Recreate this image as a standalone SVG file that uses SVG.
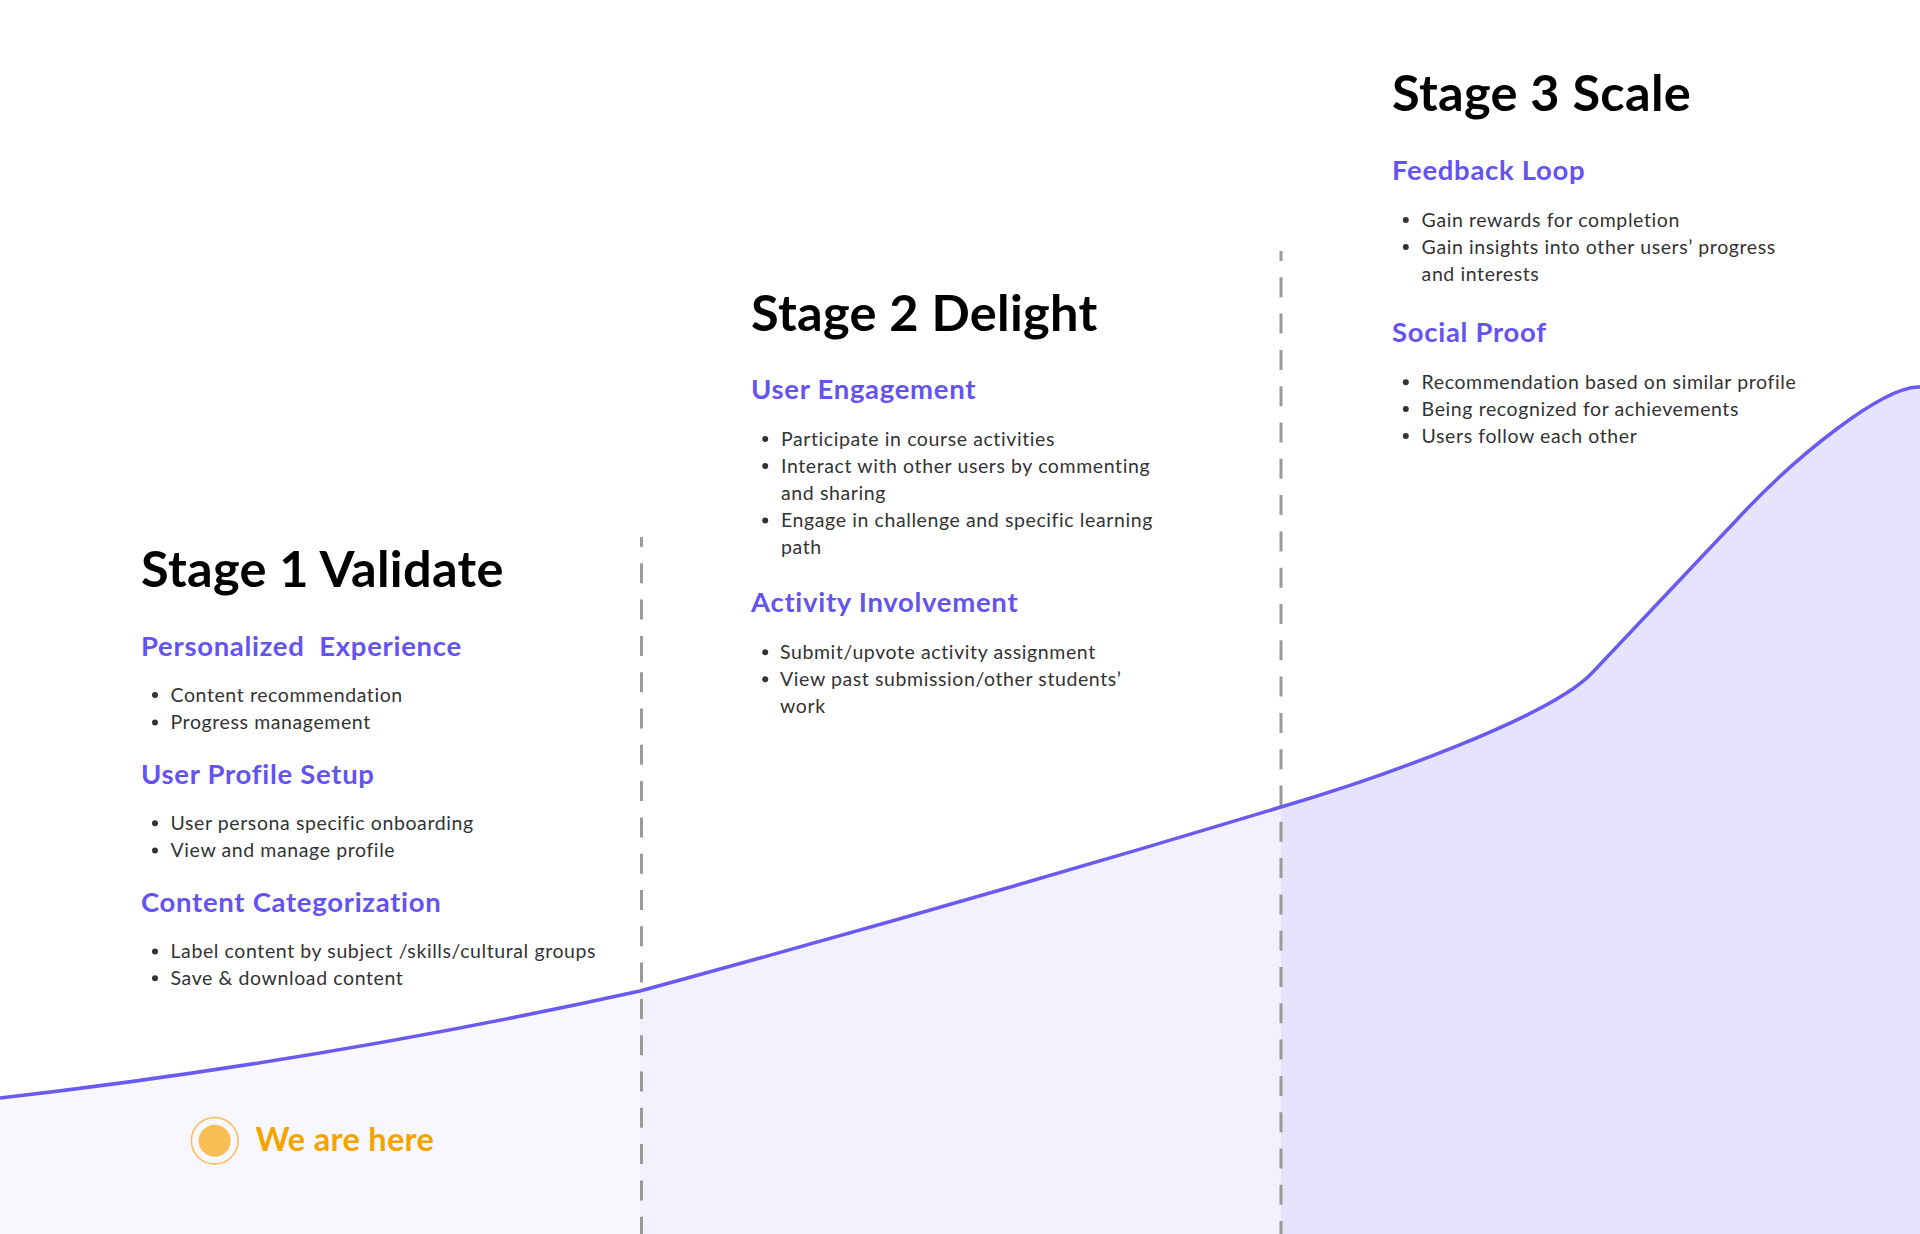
<svg xmlns="http://www.w3.org/2000/svg" width="1920" height="1234" viewBox="0 0 1920 1234">
<style>
  .title { font-family: Lato, "Noto Sans", sans-serif; font-weight: 700; font-size: 50.5px; letter-spacing: 0.3px; fill: #000; }
  .sub { font-family: Lato, "Noto Sans", sans-serif; font-weight: 700; font-size: 27.5px; letter-spacing: 0.7px; fill: #6553F0; }
  .item { font-family: Lato, "Noto Sans", sans-serif; font-weight: 400; font-size: 19.5px; letter-spacing: 0.6px; fill: #333; }
  .dot { fill: #333; }
  .divider { stroke: #9A9A9A; stroke-width: 3; stroke-dasharray: 20 16.3; stroke-dashoffset: 10; fill: none; }
  .curve { stroke: #6A5AEF; stroke-width: 3.5; fill: none; stroke-linejoin: round; }
  .here { font-family: Lato, "Noto Sans", sans-serif; font-weight: 700; font-size: 32.5px; letter-spacing: 0.3px; fill: #F5A300; }
</style>
<rect x="0" y="0" width="1920" height="1234" fill="#FFFFFF"/>

<g id="areas">
  <path d="M0,1098 Q320,1061.5 640,991 L640,1234 L0,1234 Z" fill="#F8F7FE"/>
  <path d="M640,991 Q960,904 1281,807 L1281,1234 L640,1234 Z" fill="#F3F1FE"/>
  <path d="M1281,807 C1380,778 1550,717 1592,673 L1745,511 C1795,458 1880,388 1918,387 L1920,387 L1920,1234 L1281,1234 Z" fill="#E6E3FC"/>
</g>

<g id="connectors">
  <line class="divider" x1="641.5" y1="537" x2="641.5" y2="1234"/>
  <line class="divider" x1="1281" y1="251" x2="1281" y2="1234"/>
  <path class="curve" d="M0,1098 Q320,1061.5 640,991 Q960,904 1281,807 C1380,778 1550,717 1592,673 L1745,511 C1795,458 1880,388 1918,387 L1920,387"/>
</g>

<g id="stage1">
  <text class="title" x="141" y="587">Stage 1 Validate</text>
  <text class="sub" x="141" y="656" xml:space="preserve">Personalized  Experience</text>
  <circle class="dot" cx="155" cy="695" r="3"/>
  <text class="item" x="170.5" y="701.7">Content recommendation</text>
  <circle class="dot" cx="155" cy="722.6" r="3"/>
  <text class="item" x="170.5" y="729.3">Progress management</text>
  <text class="sub" x="141" y="784">User Profile Setup</text>
  <circle class="dot" cx="155" cy="823.3" r="3"/>
  <text class="item" x="170.5" y="830">User persona specific onboarding</text>
  <circle class="dot" cx="155" cy="850.6" r="3"/>
  <text class="item" x="170.5" y="857.3">View and manage profile</text>
  <text class="sub" x="141" y="912.3">Content Categorization</text>
  <circle class="dot" cx="155" cy="951.6" r="3"/>
  <text class="item" x="170.5" y="958.3">Label content by subject /skills/cultural groups</text>
  <circle class="dot" cx="155" cy="978.3" r="3"/>
  <text class="item" x="170.5" y="985">Save &amp; download content</text>
</g>

<g id="stage2">
  <text class="title" x="751" y="330.7">Stage 2 Delight</text>
  <text class="sub" x="751" y="399.3">User Engagement</text>
  <circle class="dot" cx="765.2" cy="439" r="3"/>
  <text class="item" x="781" y="445.7">Participate in course activities</text>
  <circle class="dot" cx="765.2" cy="466" r="3"/>
  <text class="item" x="781" y="472.7">Interact with other users by commenting</text>
  <text class="item" x="781" y="500">and sharing</text>
  <circle class="dot" cx="765.2" cy="520.6" r="3"/>
  <text class="item" x="781" y="527.3">Engage in challenge and specific learning</text>
  <text class="item" x="781" y="554">path</text>
  <text class="sub" x="751" y="612.3">Activity Involvement</text>
  <circle class="dot" cx="765.2" cy="652.3" r="3"/>
  <text class="item" x="780" y="659">Submit/upvote activity assignment</text>
  <circle class="dot" cx="765.2" cy="679.3" r="3"/>
  <text class="item" x="780" y="686">View past submission/other students’</text>
  <text class="item" x="780" y="712.7">work</text>
</g>

<g id="stage3">
  <text class="title" x="1392" y="111">Stage 3 Scale</text>
  <text class="sub" x="1392" y="180">Feedback Loop</text>
  <circle class="dot" cx="1405.8" cy="220" r="3"/>
  <text class="item" x="1421.6" y="226.7">Gain rewards for completion</text>
  <circle class="dot" cx="1405.8" cy="247" r="3"/>
  <text class="item" x="1421.6" y="253.7">Gain insights into other users’ progress</text>
  <text class="item" x="1421.6" y="280.7">and interests</text>
  <text class="sub" x="1392" y="341.7">Social Proof</text>
  <circle class="dot" cx="1405.8" cy="382.3" r="3"/>
  <text class="item" x="1421.6" y="389">Recommendation based on similar profile</text>
  <circle class="dot" cx="1405.8" cy="409" r="3"/>
  <text class="item" x="1421.6" y="415.7">Being recognized for achievements</text>
  <circle class="dot" cx="1405.8" cy="436" r="3"/>
  <text class="item" x="1421.6" y="442.7">Users follow each other</text>
</g>

<g id="we-are-here">
  <circle cx="214.7" cy="1140.7" r="23.3" fill="none" stroke="#F8BD55" stroke-width="1.5"/>
  <circle cx="214.7" cy="1140.7" r="16" fill="#F8BD55"/>
  <text class="here" x="255.4" y="1151">We are here</text>
</g>
</svg>
